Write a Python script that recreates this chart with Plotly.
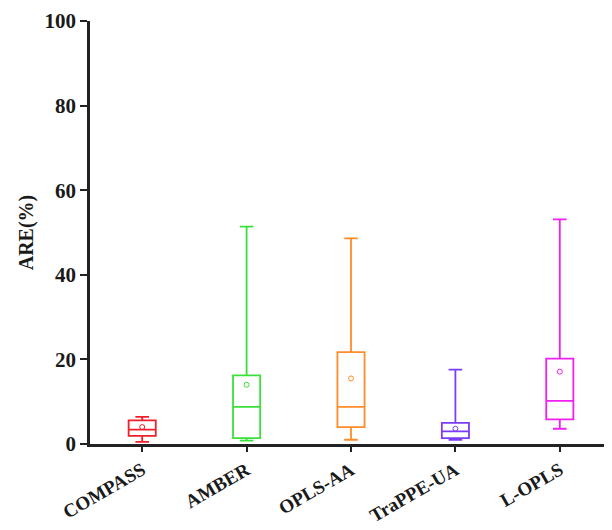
import plotly.graph_objects as go

categories = ["COMPASS", "AMBER", "OPLS-AA", "TraPPE-UA", "L-OPLS"]
lower_whisker = [0.5, 0.8, 1.0, 1.0, 3.6]
q1 = [1.9, 1.4, 4.0, 1.4, 5.8]
median = [3.4, 8.8, 8.8, 3.0, 10.2]
q3 = [5.6, 16.2, 21.7, 5.0, 20.2]
upper_whisker = [6.4, 51.4, 48.6, 17.6, 53.1]
mean = [4.0, 14.0, 15.5, 3.6, 17.1]
colors = ["#F0202A", "#3BE03B", "#FF8C28", "#7B3CF5", "#F020F0"]

fig = go.Figure()
for i, c in enumerate(categories):
    fig.add_trace(go.Box(
        x=[c], q1=[q1[i]], median=[median[i]], q3=[q3[i]],
        lowerfence=[lower_whisker[i]], upperfence=[upper_whisker[i]],
        width=0.26, whiskerwidth=0.5,
        line=dict(color=colors[i], width=1.8),
        fillcolor="rgba(255,255,255,0)",
        boxpoints=False, showlegend=False, hoverinfo="skip",
    ))
    fig.add_trace(go.Scatter(
        x=[c], y=[mean[i]], mode="markers",
        marker=dict(symbol="circle-open", size=5, color=colors[i], line=dict(width=1)),
        showlegend=False, hoverinfo="skip",
    ))

font_family = "Liberation Serif"
fig.update_layout(
    width=604, height=522,
    margin=dict(l=82, r=0, t=13, b=86),
    plot_bgcolor="white", paper_bgcolor="white",
    font=dict(family=font_family, color="#1a1a1a"),
)
fig.update_xaxes(
    type="category", categoryorder="array", categoryarray=categories,
    range=[-0.5, 4.5], automargin=False,
    showline=True, linecolor="#222", linewidth=2.5,
    ticks="outside", ticklen=5, tickwidth=2, tickcolor="#222",
    tickangle=-30, showgrid=False, zeroline=False,
    tickfont=dict(family=font_family, size=19, color="#1a1a1a", weight="bold"),
)
fig.update_yaxes(
    range=[0, 100], tickvals=[0, 20, 40, 60, 80, 100],
    showline=True, linecolor="#222", linewidth=2.5,
    ticks="outside", ticklen=7, tickwidth=2, tickcolor="#222",
    showgrid=False, zeroline=False,
    tickfont=dict(family=font_family, size=21, color="#1a1a1a", weight="bold"),
    title=dict(text="ARE(%)", standoff=6,
               font=dict(family=font_family, size=20, color="#1a1a1a", weight="bold")),
)
fig.write_html("out.html")
